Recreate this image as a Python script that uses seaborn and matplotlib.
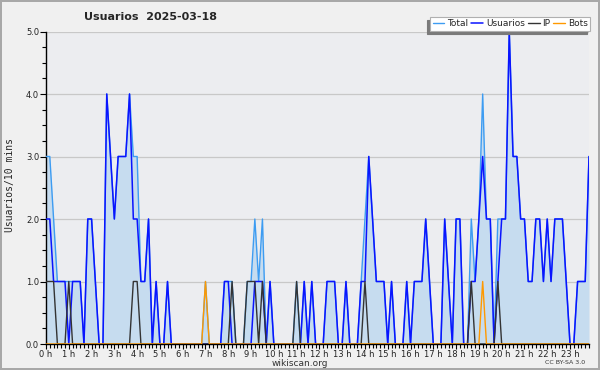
import numpy as np
import pandas as pd
import matplotlib
matplotlib.use("Agg")
import matplotlib.pyplot as plt
import seaborn as sns
from matplotlib.ticker import MultipleLocator, FixedLocator, FormatStrFormatter

# ---- data (10-minute slots over one day) ----
slot = list(range(144))
total = [3, 3, 2, 1, 1, 1, 1, 1, 1, 1, 0, 2, 2, 1, 0, 0, 4, 3, 2, 3, 3, 3, 4, 3,
         3, 1, 1, 2, 0, 1, 0, 0, 1, 0, 0, 0, 0, 0, 0, 0, 0, 0, 1, 0, 0, 0, 0, 1,
         1, 1, 0, 0, 0, 1, 1, 2, 1, 2, 0, 1, 0, 0, 0, 0, 0, 0, 1, 0, 1, 0, 1, 0,
         0, 0, 1, 1, 1, 0, 0, 1, 0, 0, 0, 1, 2, 3, 2, 1, 1, 1, 0, 1, 0, 0, 0, 1,
         0, 1, 1, 1, 2, 1, 0, 0, 0, 2, 1, 0, 2, 2, 0, 0, 2, 1, 2, 4, 2, 2, 0, 2,
         2, 2, 5, 3, 3, 2, 2, 1, 1, 2, 2, 1, 2, 1, 2, 2, 2, 1, 0, 0, 1, 1, 1, 3]
usuarios = [2, 2, 1, 1, 1, 1, 0, 1, 1, 1, 0, 2, 2, 1, 0, 0, 4, 3, 2, 3, 3, 3, 4, 2,
            2, 1, 1, 2, 0, 1, 0, 0, 1, 0, 0, 0, 0, 0, 0, 0, 0, 0, 0, 0, 0, 0, 0, 1,
            1, 0, 0, 0, 0, 0, 0, 1, 1, 1, 0, 1, 0, 0, 0, 0, 0, 0, 0, 0, 1, 0, 1, 0,
            0, 0, 1, 1, 1, 0, 0, 1, 0, 0, 0, 1, 1, 3, 2, 1, 1, 1, 0, 1, 0, 0, 0, 1,
            0, 1, 1, 1, 2, 1, 0, 0, 0, 2, 1, 0, 2, 2, 0, 0, 1, 1, 2, 3, 2, 2, 0, 1,
            2, 2, 5, 3, 3, 2, 2, 1, 1, 2, 2, 1, 2, 1, 2, 2, 2, 1, 0, 0, 1, 1, 1, 3]
ip = [1, 1, 1, 0, 0, 0, 1, 0, 0, 0, 0, 0, 0, 0, 0, 0, 0, 0, 0, 0, 0, 0, 0, 1,
      1, 0, 0, 0, 0, 0, 0, 0, 0, 0, 0, 0, 0, 0, 0, 0, 0, 0, 0, 0, 0, 0, 0, 0,
      0, 1, 0, 0, 0, 1, 1, 1, 0, 1, 0, 0, 0, 0, 0, 0, 0, 0, 1, 0, 0, 0, 0, 0,
      0, 0, 0, 0, 0, 0, 0, 0, 0, 0, 0, 0, 1, 0, 0, 0, 0, 0, 0, 0, 0, 0, 0, 0,
      0, 0, 0, 0, 0, 0, 0, 0, 0, 0, 0, 0, 0, 0, 0, 0, 1, 0, 0, 0, 0, 0, 0, 1,
      0, 0, 0, 0, 0, 0, 0, 0, 0, 0, 0, 0, 0, 0, 0, 0, 0, 0, 0, 0, 0, 0, 0, 0]
bots = [0] * 42 + [1] + [0] * 72 + [1] + [0] * 28
hour_labels = [f"{h} h" for h in range(24)]

df = pd.DataFrame({"slot": slot, "Total": total, "Usuarios": usuarios,
                   "IP": ip, "Bots": bots})
df["hora"] = df["slot"] / 6.0

sns.set_theme(style="ticks")
plt.rcParams["font.family"] = ["DejaVu Sans"]

fig = plt.figure(figsize=(6, 3.7), dpi=100, facecolor="#f0f0f0",
                 edgecolor="#a8a8a8", linewidth=1.5)
ax = fig.add_axes([46 / 600, 1 - 344 / 370, 543 / 600, 312.5 / 370])
ax.set_facecolor("#ecedf0")

ax.fill_between(df["hora"], df["Total"], color="#c6dcef", lw=0, zorder=1)
sns.lineplot(data=df, x="hora", y="Total", ax=ax, color="#3d9cf2", lw=1.0,
             label="Total", zorder=3)
sns.lineplot(data=df, x="hora", y="Usuarios", ax=ax, color="#0a14ff", lw=1.1,
             label="Usuarios", zorder=4)
sns.lineplot(data=df, x="hora", y="IP", ax=ax, color="#333333", lw=1.0,
             label="IP", zorder=5)
sns.lineplot(data=df, x="hora", y="Bots", ax=ax, color="#ff9900", lw=1.0,
             label="Bots", zorder=6)

ax.set_xlim(0, 143 / 6)
ax.set_ylim(0, 5)
ax.set_xlabel("")
ax.set_ylabel("")

ax.xaxis.set_major_locator(FixedLocator(range(24)))
ax.set_xticklabels(hour_labels)
ax.xaxis.set_minor_locator(MultipleLocator(1 / 6))
ax.yaxis.set_major_locator(MultipleLocator(1))
ax.yaxis.set_minor_locator(MultipleLocator(0.25))
ax.yaxis.set_major_formatter(FormatStrFormatter("%.1f"))
ax.tick_params(axis="both", which="major", direction="out", length=4,
               width=0.8, color="black", labelsize=6, pad=1,
               labelcolor="#222222")
ax.tick_params(axis="x", which="major", length=3.5, pad=0.5)
ax.tick_params(axis="both", which="minor", direction="out", length=3,
               width=0.8, color="black")

ax.yaxis.grid(True, color="#c8c8c8", lw=0.9)
ax.xaxis.grid(False)
ax.set_axisbelow(True)
for s in ["top", "right"]:
    ax.spines[s].set_visible(False)
for s in ["left", "bottom"]:
    ax.spines[s].set_color("black")
    ax.spines[s].set_linewidth(1.0)

leg = ax.legend(loc="upper right", bbox_to_anchor=(590 / 600, 1 - 17 / 370),
                bbox_transform=fig.transFigure, ncol=4, fontsize=6.5,
                frameon=True, fancybox=False, edgecolor="#b0b0b0",
                facecolor="white", framealpha=1, handlelength=1.3,
                handletextpad=0.3, columnspacing=0.35, borderpad=0.25,
                borderaxespad=0,
                shadow={"ox": -2.5, "oy": -2.5, "facecolor": "#7a7a7a",
                        "edgecolor": "#7a7a7a", "alpha": 1})
leg.get_frame().set_linewidth(0.8)

fig.text(151 / 600, 1 - 17 / 370, "Usuarios  2025-03-18", ha="center",
         va="center", fontsize=8, fontweight="bold")
fig.text(10 / 600, 1 - 185 / 370, "Usuarios/10 mins", rotation=90,
         family="DejaVu Sans Mono", fontsize=7, ha="center", va="center")
fig.text(300 / 600, 1 - 363 / 370, "wikiscan.org", fontsize=6.5,
         ha="center", va="center", color="#333333")
fig.text(565 / 600, 1 - 363 / 370, "CC BY-SA 3.0", fontsize=4.5,
         ha="center", va="center", color="#333333")

fig.savefig("out.png", dpi=100, facecolor=fig.get_facecolor(),
            edgecolor=fig.get_edgecolor())
